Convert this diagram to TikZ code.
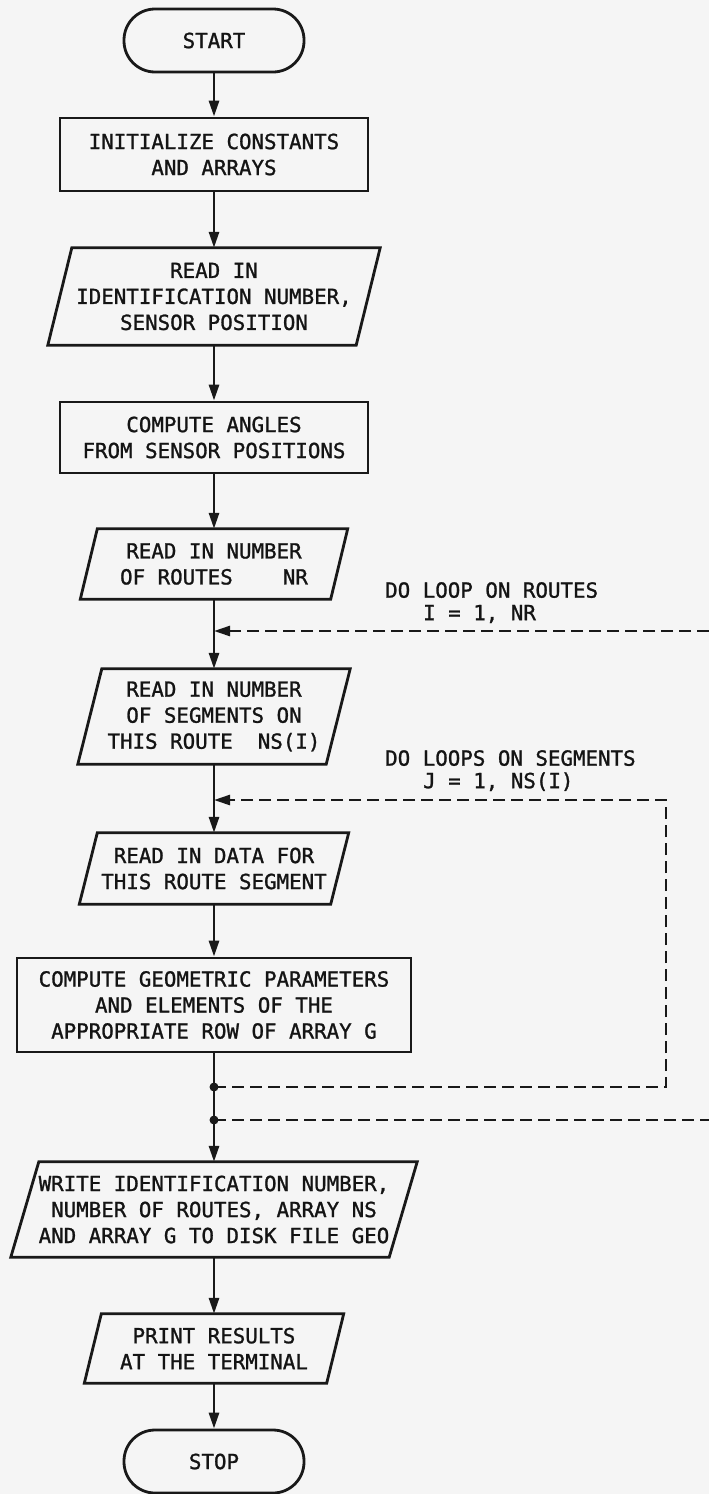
\documentclass[tikz,border=0pt]{standalone}
\usepackage{fontspec}
\newfontfamily\chartfont[FakeBold=1.2]{DejaVu Sans Mono}
\usetikzlibrary{arrows.meta}
\begin{document}
\begin{tikzpicture}[x=1pt,y=-1pt,
  ink/.style={draw=black!90},
  every node/.style={font=\chartfont\fontsize{20.8}{26}\selectfont, text=black!92},
  box/.style={ink, line width=2.8pt, rectangle, align=center, inner sep=0pt},
  term/.style={box, rounded corners=31pt, minimum width=180pt, minimum height=63pt},
  io/.style={rectangle, align=center, inner sep=0pt},
  ioframe/.style={ink, line width=2.8pt, line join=miter},
  flow/.style={ink, line width=2.8pt, -{Triangle[length=16pt,width=10pt]}},
  loopline/.style={ink, line width=2.5pt, dash pattern=on 12pt off 6pt},
  looptip/.style={-{Triangle[length=16pt,width=10pt]}},
  looplabel/.style={align=left, anchor=north west, inner sep=0pt,
    font=\chartfont\fontsize{20.8}{22.5}\selectfont}
]
\fill[black!4] (0,0) rectangle (709,1494);
\useasboundingbox (0,0) rectangle (709,1494);

% process steps
\node[term] (start) at (214,40.5) {START};
\node[box, minimum width=308pt, minimum height=73pt] (init) at (214,154.5)
  {INITIALIZE CONSTANTS\\AND ARRAYS};
\node[io, minimum width=308pt, minimum height=97pt] (ident) at (214,296.5)
  {READ IN\\IDENTIFICATION NUMBER,\\SENSOR POSITION};
\node[box, minimum width=308pt, minimum height=71pt] (angles) at (214,437.5)
  {COMPUTE ANGLES\\FROM SENSOR POSITIONS};
\node[io, minimum width=250pt, minimum height=70pt] (routes) at (214,564)
  {READ IN NUMBER\\OF ROUTES~~~~NR};
\node[io, minimum width=248pt, minimum height=95pt] (seg) at (214,716.5)
  {READ IN NUMBER\\OF SEGMENTS ON\\THIS ROUTE~~NS(I)};
\node[io, minimum width=251pt, minimum height=71pt] (data) at (214,868.5)
  {READ IN DATA FOR\\THIS ROUTE SEGMENT};
\node[box, minimum width=394pt, minimum height=94pt] (geom) at (214,1005)
  {COMPUTE GEOMETRIC PARAMETERS\\AND ELEMENTS OF THE\\APPROPRIATE ROW OF ARRAY G};
\node[io, minimum width=378pt, minimum height=95pt] (write) at (214,1209.5)
  {WRITE IDENTIFICATION NUMBER,\\NUMBER OF ROUTES, ARRAY NS\\AND ARRAY G TO DISK FILE GEO};
\node[io, minimum width=242pt, minimum height=69pt] (print) at (214,1348.5)
  {PRINT RESULTS\\AT THE TERMINAL};
\node[term] (stop) at (214,1461.5) {STOP};

% slanted input/output frames
\foreach \n/\s in {ident/12, routes/8.5, seg/12, data/9, write/14, print/8.5}
  \draw[ioframe] ([xshift=\s pt]\n.north west) -- ([xshift=\s pt]\n.north east)
    -- ([xshift=-\s pt]\n.south east) -- ([xshift=-\s pt]\n.south west) -- cycle;

% main flow
\draw[flow] (start) -- (init);
\draw[flow] (init) -- (ident);
\draw[flow] (ident) -- (angles);
\draw[flow] (angles) -- (routes);
\draw[flow] (routes) -- (seg);
\draw[flow] (seg) -- (data);
\draw[flow] (data) -- (geom);
\draw[flow] (geom) -- (write);
\draw[flow] (write) -- (print);
\draw[flow] (print) -- (stop);

% loop return points
\coordinate (routesin) at (709,631);
\coordinate (routesjoin) at (214,631);
\coordinate (segjoin) at (214,800);
\coordinate (segcorner) at (666,800);
\coordinate (segturn) at (666,1087);
\coordinate (segend) at (214,1087);
\coordinate (routesend) at (214,1120);
\coordinate (routesout) at (709,1120);

\draw[loopline, looptip] (routesin) -- (routesjoin);
\draw[loopline, looptip] (segend) -- (segturn) -- (segcorner) -- (segjoin);
\draw[loopline] (routesend) -- (routesout);
\fill[black!90] (segend) circle (4.5);
\fill[black!90] (routesend) circle (4.5);

% loop labels
\node[looplabel] (routeslabel) at (385,582)
  {DO LOOP ON ROUTES\\\hspace*{38pt}I = 1, NR};
\node[looplabel] (seglabel) at (385,750)
  {DO LOOPS ON SEGMENTS\\\hspace*{38pt}J = 1, NS(I)};
\end{tikzpicture}
\end{document}
